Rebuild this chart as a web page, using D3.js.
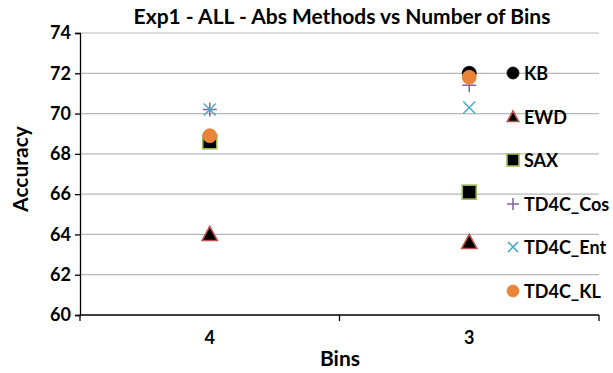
<!DOCTYPE html>
<html>
<head>
<meta charset="utf-8">
<script src="https://cdn.jsdelivr.net/npm/d3@7"></script>
<style>
  html, body { margin: 0; padding: 0; background: #fff; }
  svg text { font-family: Lato, "Open Sans", sans-serif; font-weight: bold; fill: #000; }
</style>
</head>
<body>
<svg id="chart" width="613" height="373"></svg>
<script>
// Bin counts on the x axis
const bins = ["4", "3"];
// Accuracy of each abstraction method per bin count
const seriesNames = ["KB", "EWD", "SAX", "TD4C_Cos", "TD4C_Ent", "TD4C_KL"];
const kb      = [68.8, 72.0];
const ewd     = [64.0, 63.6];
const sax     = [68.6, 66.1];
const td4cCos = [70.2, 71.4];
const td4cEnt = [70.2, 70.3];
const td4cKl  = [68.9, 71.8];
const yTicks  = [60, 62, 64, 66, 68, 70, 72, 74];

const seriesValues = [kb, ewd, sax, td4cCos, td4cEnt, td4cKl];

const svg = d3.select("#chart");
const plotLeft = 80, plotRight = 599, plotTop = 33, plotBottom = 315;

const x = d3.scaleBand().domain(bins).range([plotLeft, plotRight]);
const y = d3.scaleLinear().domain([60, 74]).range([plotBottom, plotTop]);

// Gridlines
svg.append("g").selectAll("line").data(yTicks.slice(1)).join("line")
  .attr("x1", plotLeft).attr("x2", plotRight)
  .attr("y1", d => y(d)).attr("y2", d => y(d))
  .attr("stroke", "#b8b8b8").attr("stroke-width", 1.2);

// Y axis
const yAxis = svg.append("g").attr("transform", `translate(${plotLeft},0)`)
  .call(d3.axisLeft(y).tickValues(yTicks).tickSize(5).tickPadding(4));
yAxis.select(".domain").attr("stroke", "#000").attr("stroke-width", 1.3);
yAxis.selectAll(".tick line").attr("stroke", "#000").attr("stroke-width", 1.3);
yAxis.selectAll(".tick text").style("font-size", "18px");

// X axis: boundary ticks between categories
svg.append("line").attr("x1", plotLeft).attr("x2", plotRight)
  .attr("y1", plotBottom).attr("y2", plotBottom).attr("stroke", "#000").attr("stroke-width", 1.3);
const bounds = [plotLeft, x(bins[1]), plotRight];
svg.append("g").selectAll("line").data(bounds).join("line")
  .attr("x1", d => d).attr("x2", d => d)
  .attr("y1", plotBottom).attr("y2", plotBottom + 6)
  .attr("stroke", "#000").attr("stroke-width", 1.3);
svg.append("g").selectAll("text").data(bins).join("text")
  .attr("x", d => x(d) + x.bandwidth() / 2)
  .attr("y", plotBottom + 29)
  .attr("text-anchor", "middle")
  .style("font-size", "18px")
  .text(d => d);

// Titles
svg.append("text").attr("x", 342).attr("y", 24).attr("text-anchor", "middle")
  .style("font-size", "21px").text("Exp1 - ALL - Abs Methods vs Number of Bins");
svg.append("text").attr("x", 340).attr("y", 366).attr("text-anchor", "middle")
  .style("font-size", "21px").text("Bins");
svg.append("text").attr("transform", "translate(28,169) rotate(-90)")
  .attr("text-anchor", "middle").style("font-size", "21px").text("Accuracy");

// Marker drawing
const styles = [
  { shape: "circle",   fill: "#000",    stroke: "#000",    size: 7 },
  { shape: "triangle", fill: "#000",    stroke: "#c0504d", size: 8 },
  { shape: "square",   fill: "#000",    stroke: "#9bbb59", size: 7 },
  { shape: "plus",     fill: "none",    stroke: "#8064a2", size: 7 },
  { shape: "cross",    fill: "none",    stroke: "#4bacc6", size: 7 },
  { shape: "circle",   fill: "#e8853a", stroke: "#e8853a", size: 7 }
];

function drawMarker(g, st, cx, cy, s) {
  const r = s || st.size;
  if (st.shape === "circle") {
    g.append("circle").attr("cx", cx).attr("cy", cy).attr("r", r)
      .attr("fill", st.fill).attr("stroke", st.stroke).attr("stroke-width", 0.8);
  } else if (st.shape === "square") {
    g.append("rect").attr("x", cx - r).attr("y", cy - r).attr("width", 2 * r).attr("height", 2 * r)
      .attr("fill", st.fill).attr("stroke", st.stroke).attr("stroke-width", 1.6);
  } else if (st.shape === "triangle") {
    g.append("path")
      .attr("d", `M${cx},${cy - r}L${cx + r * 0.95},${cy + r * 0.75}L${cx - r * 0.95},${cy + r * 0.75}Z`)
      .attr("fill", st.fill).attr("stroke", st.stroke).attr("stroke-width", 1.6);
  } else if (st.shape === "plus") {
    g.append("path").attr("d", `M${cx - r},${cy}H${cx + r}M${cx},${cy - r}V${cy + r}`)
      .attr("stroke", st.stroke).attr("stroke-width", 1.5).attr("fill", "none");
  } else if (st.shape === "cross") {
    const d = r * 0.85;
    g.append("path").attr("d", `M${cx - d},${cy - d}L${cx + d},${cy + d}M${cx - d},${cy + d}L${cx + d},${cy - d}`)
      .attr("stroke", st.stroke).attr("stroke-width", 1.5).attr("fill", "none");
  }
}

const pts = svg.append("g");
seriesValues.forEach((vals, i) => {
  vals.forEach((v, j) => {
    drawMarker(pts, styles[i], x(bins[j]) + x.bandwidth() / 2, y(v));
  });
});

// Legend
const lg = svg.append("g");
const legendY = [73, 117, 160, 204, 247, 291];
seriesNames.forEach((name, i) => {
  drawMarker(lg, styles[i], 513, legendY[i], 6);
  lg.append("text").attr("x", 524).attr("y", legendY[i] + 6.5)
    .style("font-size", "18px").text(name);
});
</script>
</body>
</html>
